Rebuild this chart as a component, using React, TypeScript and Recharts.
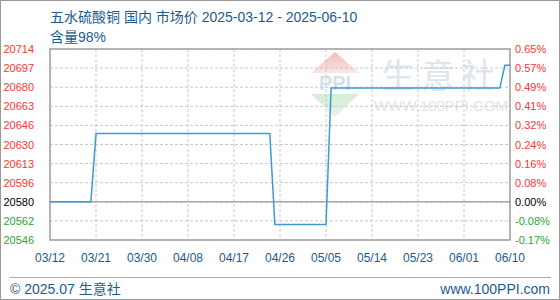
import { LineChart, Line, XAxis, YAxis, CartesianGrid, ReferenceLine, ReferenceArea } from 'recharts'

// price changes (market price, yuan/ton)
const changeDates = ['2025-03-12', '2025-03-20', '2025-03-21', '2025-04-24', '2025-04-25', '2025-05-05', '2025-05-06', '2025-06-08', '2025-06-09', '2025-06-10']
const prices = [20580, 20580, 20640, 20640, 20560, 20560, 20680, 20680, 20700, 20700]

const xTickDays = [0, 9, 18, 27, 36, 45, 54, 63, 72, 81, 90]
const xTickLabels = ['03/12', '03/21', '03/30', '04/08', '04/17', '04/26', '05/05', '05/14', '05/23', '06/01', '06/10']

const yTickValues = [20546.4, 20563.2, 20580, 20596.8, 20613.6, 20630.4, 20647.2, 20664, 20680.8, 20697.6, 20714.4]
const yTickLabels = ['20546', '20562', '20580', '20596', '20613', '20630', '20646', '20663', '20680', '20697', '20714']
const pctTickLabels = ['-0.17%', '-0.08%', '0.00%', '0.08%', '0.16%', '0.24%', '0.32%', '0.41%', '0.49%', '0.57%', '0.65%']

const START = Date.parse('2025-03-12')
const DAY = 24 * 3600 * 1000

const data = changeDates.map((d, i) => ({
    day: Math.round((Date.parse(d) - START) / DAY),
    price: prices[i],
}))

const FONT = '"Liberation Sans", "Noto Sans CJK SC", sans-serif'
const BLUE = '#1d5b8e'

function tickColor(i: number) {
    if (i < 2) return '#2ea52e'
    if (i === 2) return '#000'
    return '#ff3333'
}

function LeftTick(props: any) {
    const { x, y, payload } = props
    const i = yTickValues.indexOf(payload.value)
    return (
        <text x={x} y={y} dy={4} textAnchor="end" fontSize={11} fontFamily={FONT} fill={tickColor(i)}>
            {yTickLabels[i]}
        </text>
    )
}

function RightTick(props: any) {
    const { x, y, payload } = props
    const i = yTickValues.indexOf(payload.value)
    return (
        <text x={x} y={y} dy={4} textAnchor="start" fontSize={11} fontFamily={FONT} fill={tickColor(i)}>
            {pctTickLabels[i]}
        </text>
    )
}

function Backdrop() {
    return (
        <svg width={560} height={300} style={{ position: 'absolute', left: 0, top: 0 }}>
            <rect x={0.5} y={0.5} width={559} height={299} fill="#fff" stroke="#999" />
            {/* watermark */}
            <defs>
                <linearGradient id="wmRed" x1="0" y1="0" x2="0" y2="1">
                    <stop offset="0" stopColor="#f4b8b8" />
                    <stop offset="1" stopColor="#fbe6e6" />
                </linearGradient>
                <linearGradient id="wmGreen" x1="0" y1="0" x2="0" y2="1">
                    <stop offset="0" stopColor="#d3eed6" />
                    <stop offset="1" stopColor="#e6f5e7" />
                </linearGradient>
            </defs>
            <polygon points="335,52 311,73 359,73" fill="url(#wmRed)" />
            <text x={335} y={90} textAnchor="middle" fontSize={20} fontWeight="bold" fontFamily={FONT} fill="#d6deee">PPI</text>
            <polygon points="311,94 359,94 335,117" fill="url(#wmGreen)" />
            <text x={441} y={88} textAnchor="middle" fontSize={34} fontFamily={FONT} fill="#dfe5ef" letterSpacing={6}>生意社</text>
            <text x={441} y={111} textAnchor="middle" fontSize={15} fontFamily={FONT} fill="#e4e4e4">WWW.100PPI.COM</text>

            <text x={50} y={22} fontSize={14} fontFamily={FONT} fill={BLUE}>五水硫酸铜 国内 市场价 2025-03-12 - 2025-06-10</text>
            <text x={50} y={42} fontSize={14} fontFamily={FONT} fill={BLUE}>含量98%</text>

            <line x1={10} y1={277.5} x2={551} y2={277.5} stroke="#aaa" />
            <text x={10} y={294} fontSize={14} fontFamily={FONT} fill={BLUE}>© 2025.07 生意社</text>
            <text x={550} y={294} textAnchor="end" fontSize={14} fontFamily={FONT} fill={BLUE}>www.100PPI.com</text>
        </svg>
    )
}

export default function App() {
    return (
        <div style={{ position: 'absolute', left: 0, top: 0, width: 560, height: 300 }}>
            <Backdrop />
            <div style={{ position: 'absolute', left: 0, top: 0 }}>
                <LineChart width={560} height={300} data={data} margin={{ top: 49, right: 0, bottom: 30, left: 0 }}>
                    <CartesianGrid yAxisId="left" stroke="#c8c8c8" strokeDasharray="3 2" />
                    <XAxis
                        dataKey="day"
                        type="number"
                        domain={[0, 90]}
                        ticks={xTickDays}
                        tickFormatter={(v: number) => xTickLabels[xTickDays.indexOf(v)]}
                        height={30}
                        axisLine={false}
                        tickLine={false}
                        tickSize={0}
                        tickMargin={13}
                        interval={0}
                        tick={{ fontSize: 12, fontFamily: FONT, fill: BLUE }}
                    />
                    <YAxis
                        yAxisId="left"
                        type="number"
                        domain={[20546.4, 20714.4]}
                        allowDataOverflow
                        ticks={yTickValues}
                        interval={0}
                        width={50}
                        axisLine={false}
                        tickLine={false}
                        tickSize={0}
                        tickMargin={16}
                        tick={<LeftTick />}
                    />
                    <YAxis
                        yAxisId="right"
                        orientation="right"
                        type="number"
                        domain={[20546.4, 20714.4]}
                        allowDataOverflow
                        ticks={yTickValues}
                        interval={0}
                        width={50}
                        axisLine={false}
                        tickLine={false}
                        tickSize={0}
                        tickMargin={5}
                        tick={<RightTick />}
                    />
                    <ReferenceLine yAxisId="left" y={20580} stroke="#999" strokeWidth={1.3} />
                    <ReferenceArea
                        yAxisId="left"
                        x1={0}
                        x2={90}
                        y1={20546.4}
                        y2={20714.4}
                        fill="none"
                        stroke="#a0a0a0"
                        strokeWidth={1.5}
                    />
                    <Line
                        yAxisId="left"
                        type="linear"
                        dataKey="price"
                        stroke="#3d9ad6"
                        strokeWidth={1.5}
                        dot={false}
                        activeDot={false}
                        isAnimationActive={false}
                    />
                </LineChart>
            </div>
        </div>
    )
}
